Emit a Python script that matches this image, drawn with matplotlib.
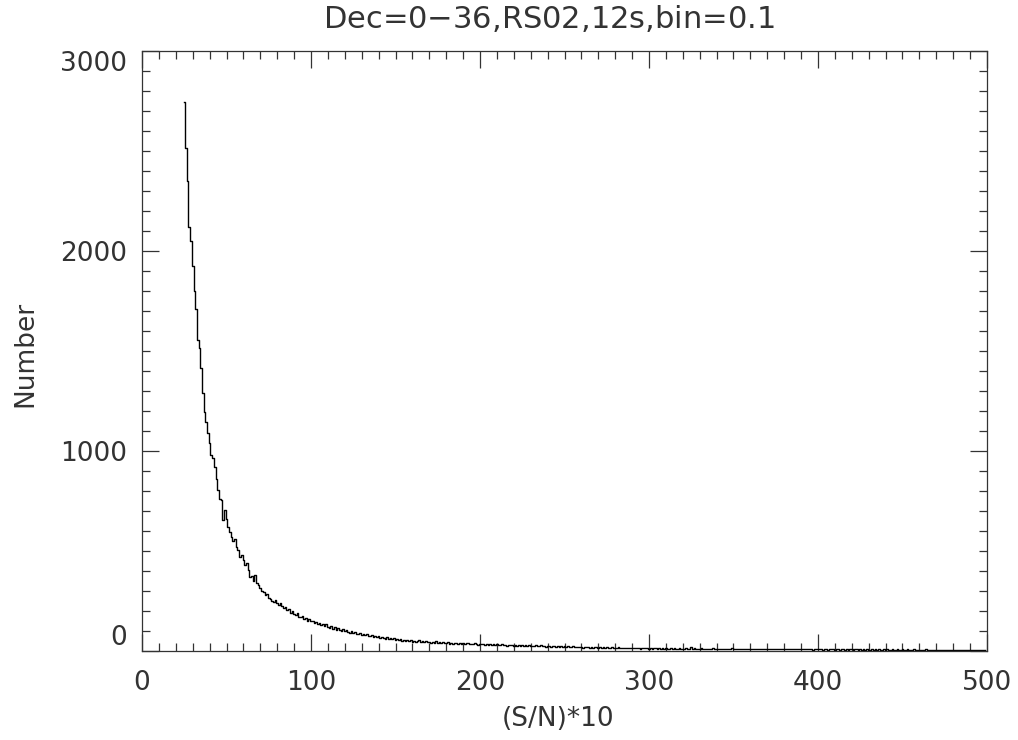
import numpy as np
import matplotlib
matplotlib.use("Agg")
import matplotlib.pyplot as plt
from matplotlib.ticker import MultipleLocator

# histogram of (S/N)*10, one bin per unit, first bin at 25
first_bin = 25
counts_25_54 = [2743, 2513, 2352, 2118, 2052, 1927, 1802, 1710, 1555, 1513,
                1413, 1288, 1193, 1147, 1088, 1040, 980, 963, 922, 858,
                805, 760, 755, 655, 705, 660, 620, 595, 570, 548]
counts_55_88 = [560, 520, 505, 470, 480, 455, 430, 440, 405, 370,
                375, 350, 380, 340, 330, 315, 300, 295, 280, 285,
                265, 262, 250, 245, 255, 240, 230, 238, 225, 215,
                222, 205, 210, 190]
counts_89_150 = [200, 185, 180, 192, 172, 168, 175, 160, 165, 152,
                 158, 148, 152, 140, 146, 134, 140, 128, 133, 124,
                 136, 120, 115, 124, 110, 118, 106, 114, 104, 100,
                 108, 98, 103, 94, 92, 99, 88, 93, 86, 84,
                 91, 80, 85, 78, 83, 76, 74, 81, 71, 77,
                 69, 73, 67, 72, 64, 62, 68, 60, 64, 58,
                 63, 57]
counts_151_200 = [60, 54, 58, 52, 56, 50, 55, 49, 53, 47,
                  52, 46, 50, 55, 45, 48, 44, 50, 43, 47,
                  42, 46, 41, 48, 40, 44, 39, 45, 41, 38,
                  43, 37, 41, 36, 42, 38, 35, 40, 36, 39,
                  34, 38, 42, 35, 37, 33, 39, 35, 32, 37]
counts_201_250 = [34, 37, 32, 35, 31, 36, 30, 34, 29, 33,
                  31, 28, 34, 29, 32, 27, 31, 28, 30, 26,
                  31, 27, 29, 25, 30, 26, 28, 24, 29, 25,
                  27, 23, 28, 24, 26, 29, 23, 25, 22, 27,
                  24, 21, 26, 23, 20, 25, 22, 24, 21, 23]
counts_251_300 = [20, 24, 21, 19, 23, 20, 18, 22, 19, 21,
                  17, 20, 18, 22, 17, 19, 16, 21, 18, 17,
                  20, 16, 18, 15, 19, 17, 16, 18, 15, 17,
                  14, 18, 16, 15, 17, 14, 16, 13, 17, 15,
                  14, 16, 13, 15, 12, 16, 14, 13, 15, 12]
counts_301_400 = [14, 12, 15, 13, 11, 14, 12, 13, 11, 14,
                  12, 10, 13, 11, 14, 12, 10, 13, 11, 12,
                  10, 13, 11, 12, 22, 11, 13, 10, 12, 11,
                  13, 10, 12, 11, 9, 12, 10, 13, 11, 10,
                  12, 9, 11, 10, 12, 9, 11, 10, 13, 9,
                  11, 10, 12, 9, 10, 11, 9, 12, 10, 9,
                  11, 10, 9, 12, 10, 9, 11, 8, 10, 9,
                  11, 9, 10, 8, 11, 9, 10, 8, 9, 11,
                  8, 10, 9, 8, 10, 9, 8, 11, 9, 8,
                  10, 8, 9, 10, 8, 9, 7, 10, 8, 9]
counts_401_499 = [8, 10, 7, 9, 8, 7, 9, 8, 10, 7,
                  8, 9, 7, 8, 9, 7, 8, 6, 9, 8,
                  7, 8, 9, 7, 8, 6, 8, 7, 9, 7,
                  6, 8, 7, 8, 6, 9, 7, 6, 8, 7,
                  8, 6, 7, 8, 6, 7, 9, 6, 7, 8,
                  6, 7, 8, 6, 7, 5, 8, 6, 7, 6,
                  5, 7, 6, 8, 6, 5, 7, 6, 5, 7,
                  6, 5, 7, 6, 5, 6, 7, 5, 6, 5,
                  7, 5, 6, 5, 6, 4, 6, 5, 6, 5,
                  4, 6, 5, 4, 6, 5, 4, 5, 6]

counts = np.array(counts_25_54 + counts_55_88 + counts_89_150 + counts_151_200
                  + counts_201_250 + counts_251_300 + counts_301_400 + counts_401_499)
x = np.arange(first_bin, first_bin + len(counts))

plt.rcParams['font.family'] = ['DejaVu Sans']
txt = '#333333'

fig = plt.figure(figsize=(10.18, 7.40), dpi=100)
ax = fig.add_axes([142/1018, 89/740, 845/1018, 600/740])

ax.step(x, counts, where='mid', color='black', lw=1.0)

ax.set_xlim(0, 500)
ax.set_ylim(0, 3000)
ax.set_xticks([0, 100, 200, 300, 400, 500])
ax.set_yticks([0, 1000, 2000, 3000])
ax.xaxis.set_minor_locator(MultipleLocator(10))
ax.yaxis.set_minor_locator(MultipleLocator(100))
ax.tick_params(which='both', direction='in', top=True, right=True,
               color='#333333', width=0.9)
ax.tick_params(which='major', length=12, labelsize=19, labelcolor=txt)
ax.tick_params(which='minor', length=6)
ax.tick_params(axis='x', pad=14)
ax.tick_params(axis='y', pad=11)
for s in ax.spines.values():
    s.set_color('#333333')
    s.set_linewidth(0.9)

ylabels = ax.get_yticklabels()
ylabels[0].set_va('bottom')
ylabels[-1].set_va('top')

fig.text(549/1018, 1 - 19/740, 'Dec=0$-$36,RS02,12s,bin=0.1', fontsize=22,
         color=txt, ha='center', va='center')
fig.text(558/1018, 1 - 719/740, '(S/N)*10', fontsize=19, color=txt,
         ha='center', va='center')
fig.text(25/1018, 1 - 354/740, 'Number', fontsize=19, color=txt,
         ha='center', va='center', rotation=90)

fig.savefig('out.png', dpi=100)
